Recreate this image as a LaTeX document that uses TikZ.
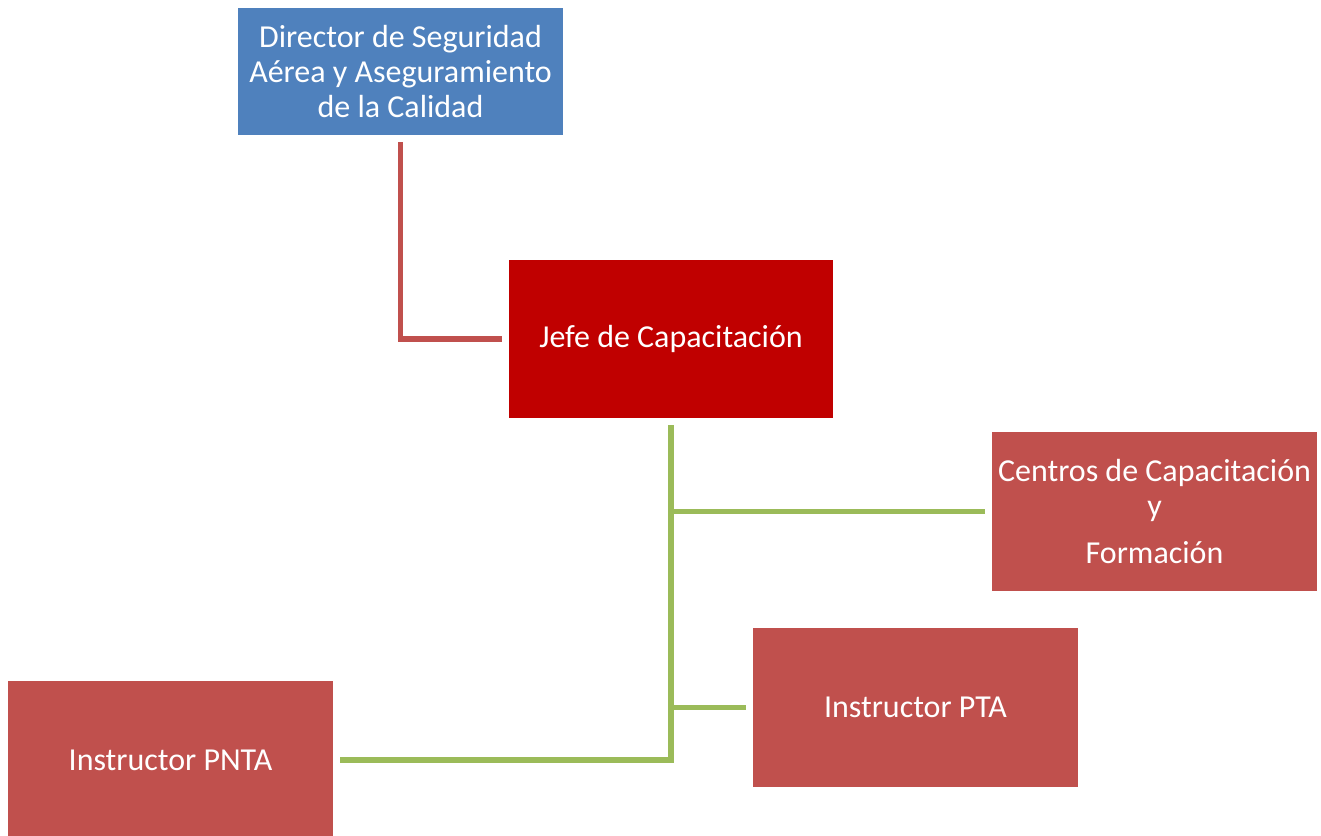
\documentclass[tikz,border=0pt]{standalone}
\usepackage{fontspec}
\setmainfont{Carlito}
\definecolor{dirblue}{HTML}{4F81BD}
\definecolor{jefered}{HTML}{C00000}
\definecolor{boxred}{HTML}{C0504D}
\definecolor{linegreen}{HTML}{9BBB59}

\begin{document}
\begin{tikzpicture}[
	orgbox/.style={fill=boxred, text=white, minimum width=6.5cm, minimum height=3.17cm, align=center, inner sep=0pt, font=\fontsize{18.2}{20}\selectfont},
	redline/.style={draw=boxred, line width=3.2pt, shorten <=0.14cm, shorten >=0.14cm},
	greenline/.style={draw=linegreen, line width=3.2pt, shorten >=0.14cm}
]
	\useasboundingbox (0, 0) rectangle (26.42, -16.7);
	\node[orgbox, fill=dirblue, minimum height=2.54cm] (director) at (8.01, -1.43) {Director de Seguridad\\Aérea y Aseguramiento\\de la Calidad};
	\node[orgbox, fill=jefered, minimum width=6.48cm, minimum height=3.16cm] (jefe) at (13.42, -6.78) {Jefe de Capacitación};
	\node[orgbox] (centros) at (23.09, -10.23) {Centros de Capacitación\\y\\[7pt]Formación};
	\node[orgbox] (pta) at (18.31, -14.15) {Instructor PTA};
	\node[orgbox] (pnta) at (3.41, -15.2) {Instructor PNTA};
	\draw[redline] (director.south) |- (jefe.west);
	\draw[greenline, shorten <=0.14cm] (jefe.south) |- (pnta.east);
	\draw[greenline] (centros.west -| jefe.south) -- (centros.west);
	\draw[greenline] (pta.west -| jefe.south) -- (pta.west);
\end{tikzpicture}
\end{document}
